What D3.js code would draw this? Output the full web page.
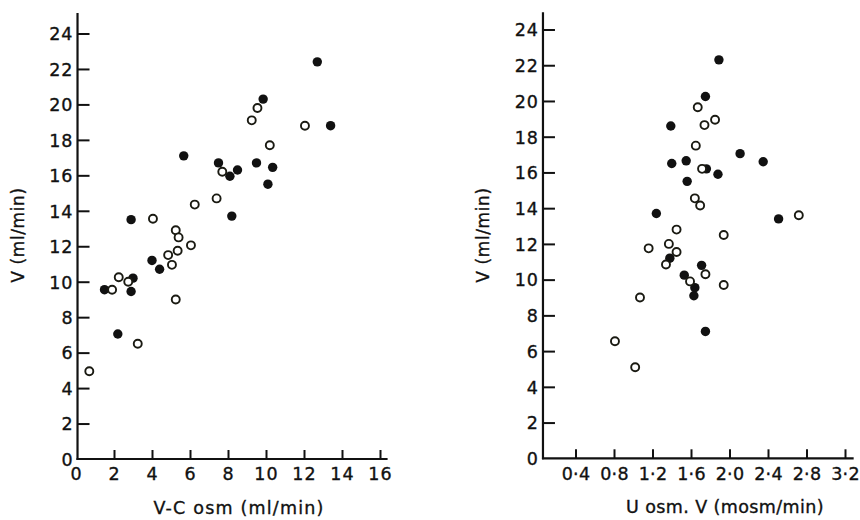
<!DOCTYPE html>
<html>
<head>
<meta charset="utf-8">
<script src="https://cdn.jsdelivr.net/npm/d3@7"></script>
<style>
  html, body { margin: 0; padding: 0; background: #fff; }
  svg { display: block; }
  text { font-family: "DejaVu Sans", sans-serif; fill: #111; stroke: #111; stroke-width: 0.35; }
</style>
</head>
<body>
<svg id="chart" width="860" height="520"></svg>
<script>
// ---------- DATA ----------
const yTicks = [0, 2, 4, 6, 8, 10, 12, 14, 16, 18, 20, 22, 24];
const leftXTicks = [0, 2, 4, 6, 8, 10, 12, 14, 16];
const rightXTicks = [0.4, 0.8, 1.2, 1.6, 2.0, 2.4, 2.8, 3.2];

const leftTitleX = "V-C osm (ml/min)";
const rightTitleX = "U osm. V (mosm/min)";
const titleY = "V (ml/min)";

// Left panel: V-C osm vs V
const leftSolid = [
  [12.7, 22.4], [9.85, 20.3], [13.4, 18.8], [5.67, 17.1], [7.5, 16.7], [8.5, 16.3],
  [8.1, 15.95], [9.5, 16.7], [10.35, 16.45], [10.1, 15.5], [2.9, 13.5], [8.2, 13.7],
  [4.0, 11.2], [4.4, 10.7], [3.0, 10.2], [2.9, 9.45], [1.5, 9.55], [2.2, 7.05]
];
const leftOpen = [
  [9.55, 19.8], [9.25, 19.1], [12.05, 18.8], [10.2, 17.7], [7.7, 16.2], [7.4, 14.7],
  [6.25, 14.35], [4.05, 13.55], [5.25, 12.9], [5.4, 12.5], [6.05, 12.05], [5.35, 11.75],
  [4.85, 11.5], [5.05, 10.95], [2.25, 10.25], [2.75, 10.0], [1.9, 9.55], [5.25, 9.0],
  [3.25, 6.5], [0.7, 4.95]
];

// Right panel: U osm . V vs V
const rightSolid = [
  [1.89, 22.3], [1.75, 20.25], [1.39, 18.6], [2.11, 17.05], [2.35, 16.6], [1.40, 16.5],
  [1.55, 16.65], [1.76, 16.2], [1.88, 15.9], [1.56, 15.5], [1.24, 13.7], [2.51, 13.4],
  [1.38, 11.2], [1.71, 10.8], [1.53, 10.25], [1.64, 9.55], [1.63, 9.1], [1.75, 7.1]
];
const rightOpen = [
  [1.67, 19.65], [1.85, 18.95], [1.74, 18.65], [1.65, 17.5], [1.715, 16.2], [1.64, 14.55],
  [1.695, 14.15], [2.72, 13.6], [1.45, 12.8], [1.94, 12.5], [1.37, 12.0], [1.16, 11.75],
  [1.45, 11.55], [1.34, 10.85], [1.75, 10.3], [1.59, 9.9], [1.94, 9.7], [1.07, 9.0],
  [0.81, 6.55], [1.02, 5.1]
];

// ---------- DRAW ----------
const svg = d3.select("#chart");
const INK = "#111";

function panel(cfg) {
  const x = d3.scaleLinear().domain(cfg.xDomain).range(cfg.xRange);
  const y = d3.scaleLinear().domain([0, 24]).range(cfg.yRange);
  const g = svg.append("g");
  const axisX = x(cfg.axisAt);
  const baseY = y(0);

  // y axis
  const yAx = d3.axisLeft(y).tickValues(yTicks).tickSize(-12).tickPadding(4)
    .tickFormat(d3.format("d"));
  const gy = g.append("g").attr("transform", `translate(${axisX},0)`).call(yAx);
  gy.select(".domain").remove();
  gy.selectAll(".tick line").attr("stroke", INK).attr("stroke-width", 2);
  gy.selectAll(".tick text").attr("font-size", 17.5).attr("letter-spacing", 1).attr("fill", INK)
    .attr("dy", "0.36em");
  gy.selectAll(".tick").filter(d => d === 0).select("line").remove();

  // x axis
  const xAx = d3.axisBottom(x).tickValues(cfg.xTicks).tickSize(-9).tickPadding(9)
    .tickFormat(cfg.fmt);
  const gx = g.append("g").attr("transform", `translate(0,${baseY})`).call(xAx);
  gx.select(".domain").remove();
  gx.selectAll(".tick line").attr("stroke", INK).attr("stroke-width", 2);
  gx.selectAll(".tick text").attr("font-size", 17.5).attr("letter-spacing", cfg.xLs).attr("fill", INK);
  gx.selectAll(".tick").filter(d => d === 0).select("line").remove();

  // axis lines
  g.append("line").attr("x1", axisX).attr("x2", axisX)
    .attr("y1", baseY + 1).attr("y2", y(cfg.yTop))
    .attr("stroke", INK).attr("stroke-width", 2.2);
  g.append("line").attr("x1", axisX - 1).attr("x2", x(cfg.xEnd))
    .attr("y1", baseY).attr("y2", baseY)
    .attr("stroke", INK).attr("stroke-width", 2.2);

  // points
  g.append("g").selectAll("circle").data(cfg.solid).join("circle")
    .attr("cx", d => x(d[0])).attr("cy", d => y(d[1])).attr("r", 4.7)
    .attr("fill", INK);
  g.append("g").selectAll("circle").data(cfg.open).join("circle")
    .attr("cx", d => x(d[0])).attr("cy", d => y(d[1])).attr("r", 4)
    .attr("fill", "#fff").attr("stroke", "#1a1a12").attr("stroke-width", 1.9);

  // titles
  g.append("text").attr("x", cfg.xTitlePos[0]).attr("y", cfg.xTitlePos[1])
    .attr("text-anchor", "middle").attr("font-size", 17.5).attr("letter-spacing", cfg.tLs)
    .text(cfg.xTitle);
  g.append("text")
    .attr("transform", `translate(${cfg.yTitlePos[0]},${cfg.yTitlePos[1]}) rotate(-90)`)
    .attr("text-anchor", "middle").attr("font-size", 17).attr("letter-spacing", 0.6)
    .text(titleY);
}

panel({
  xDomain: [0, 16], xRange: [76, 380], yRange: [459, 33.5],
  axisAt: 0.08, yTop: 25.15, xEnd: 16.4,
  xTicks: leftXTicks, fmt: d3.format("d"), xLs: 1, tLs: 1.2,
  solid: leftSolid, open: leftOpen,
  xTitle: leftTitleX, xTitlePos: [239, 514],
  yTitlePos: [24, 235]
});

panel({
  xDomain: [0, 3.2], xRange: [537, 845], yRange: [458.3, 29.5],
  axisAt: 0.062, yTop: 24.97, xEnd: 3.29,
  xTicks: rightXTicks, fmt: d => d3.format(".1f")(d).replace(".", "·"), xLs: 0.3, tLs: 0.4,
  solid: rightSolid, open: rightOpen,
  xTitle: rightTitleX, xTitlePos: [725, 513],
  yTitlePos: [489, 235]
});
</script>
</body>
</html>
